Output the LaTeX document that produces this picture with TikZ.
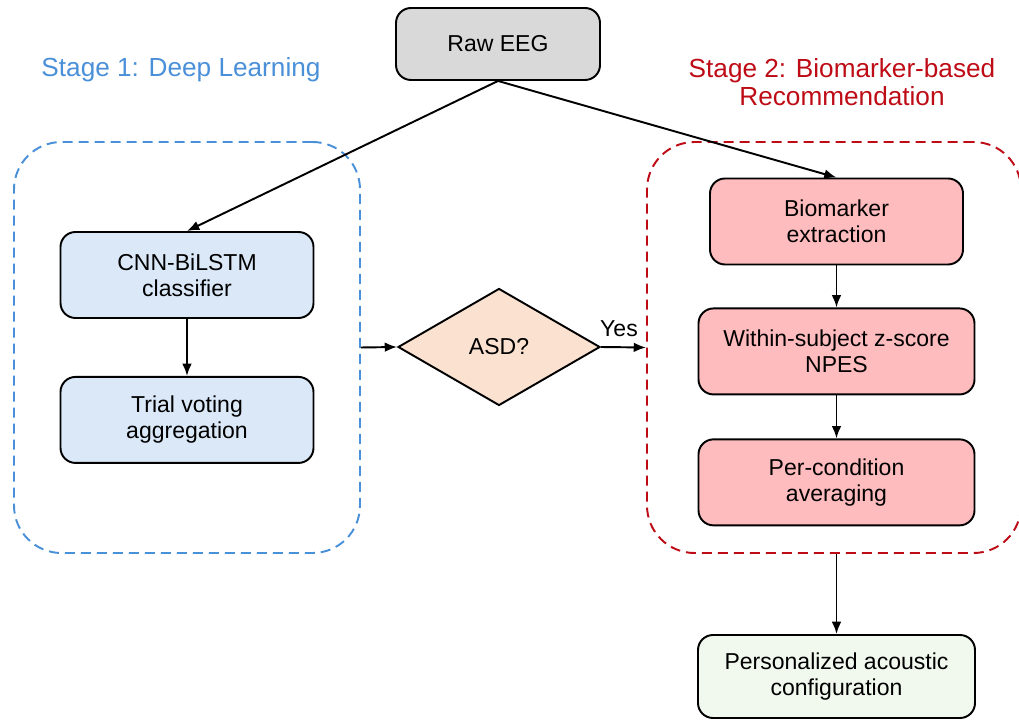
\documentclass[tikz,border=0pt]{standalone}
\usepackage{fontspec}
\setmainfont{Liberation Sans}
\usetikzlibrary{shapes.geometric, arrows.meta, positioning, backgrounds}
\definecolor{StageBlue}{RGB}{74, 144, 217}
\definecolor{StageRed}{RGB}{190, 12, 22}
\definecolor{BoxGray}{RGB}{217, 217, 217}
\definecolor{BoxBlue}{RGB}{218, 232, 248}
\definecolor{BoxPeach}{RGB}{250, 225, 208}
\definecolor{BoxPink}{RGB}{255, 188, 190}
\definecolor{BoxGreen}{RGB}{241, 248, 238}

\begin{document}
\begin{tikzpicture}[
        >={Latex[length=7pt,width=5.5pt]},
        box/.style={rectangle, rounded corners=0.3cm, draw=black, line width=1.1pt, minimum width=5.06cm, minimum height=1.72cm, align=center, inner sep=2pt, font=\fontsize{13.1}{14.8}\selectfont},
        decision/.style={diamond, draw=black, line width=1.1pt, fill=BoxPeach, minimum width=4.04cm, minimum height=2.34cm, inner sep=0pt, font=\fontsize{13.1}{14.8}\selectfont},
        stage/.style={rectangle, rounded corners=0.95cm, line width=1.1pt, dash pattern=on 5.7pt off 3.4pt, minimum height=8.22cm},
        title/.style={inner sep=0pt, align=center, font=\fontsize{14.9}{15.9}\selectfont},
        link/.style={->, line width=1.1pt, black}
    ]
        \useasboundingbox (0,0) rectangle (20.38,14.4);

        % Input
        \node[box, fill=BoxGray, minimum width=4.08cm, minimum height=1.44cm] (raw) at (9.96,13.52) {Raw EEG};

        % Stage 1
        \node[title, text=StageBlue, anchor=base] (title1) at (3.62,12.86) {Stage 1: Deep Learning};
        \node[box, fill=BoxBlue] (cnn) at (3.74,8.9) {CNN-BiLSTM\\classifier};
        \node[box, fill=BoxBlue, below=1.14cm of cnn] (vote) {Trial voting\\aggregation};
        \begin{scope}[on background layer]
            \node[stage, draw=StageBlue, minimum width=6.92cm] (stage1) at (3.74,7.45) {};
        \end{scope}

        % Decision
        \node[decision] (asd) at (9.98,7.46) {ASD?};

        % Stage 2
        \node[title, text=StageRed, anchor=north] (title2) at (16.84,13.24) {Stage 2: Biomarker-based\\Recommendation};
        \node[box, fill=BoxPink] (bio) at (16.73,9.97) {Biomarker\\extraction};
        \node[box, fill=BoxPink, minimum width=5.52cm, below=0.84cm of bio] (zscore) {Within-subject z-score\\NPES};
        \node[box, fill=BoxPink, minimum width=5.52cm, below=0.86cm of zscore] (avg) {Per-condition\\averaging};
        \begin{scope}[on background layer]
            \node[stage, draw=StageRed, minimum width=7.48cm] (stage2) at (16.68,7.45) {};
        \end{scope}

        % Output
        \node[box, fill=BoxGreen, minimum width=5.54cm, minimum height=1.66cm] (config) at (16.73,0.87) {Personalized acoustic\\configuration};

        % Connections
        \draw[link] (raw.south) -- (cnn.north);
        \draw[link] (raw.south) -- (bio.north);
        \draw[link] (cnn) -- (vote);
        \draw[link] (stage1.east) -- (asd.west);
        \draw[link] (asd.east) -- (stage2.west) node[pos=0.4, above, yshift=2pt, font=\fontsize{13.1}{14.8}\selectfont] {Yes};
        \draw[link] (bio) -- (zscore);
        \draw[link] (zscore) -- (avg);
        \draw[link] (config.north |- stage2.south) -- (config.north);
    \end{tikzpicture}
\end{document}
